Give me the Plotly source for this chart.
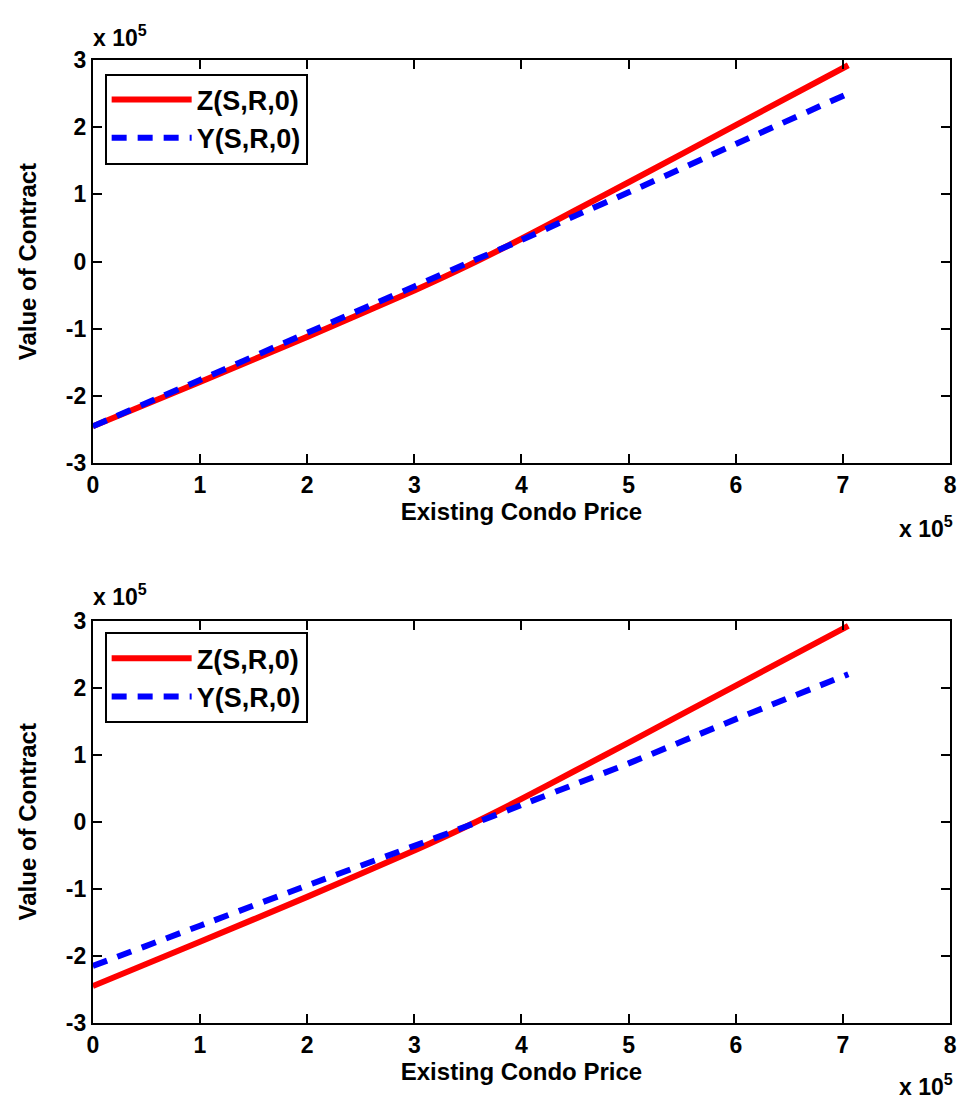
import plotly.graph_objects as go

# Existing condo price (units of 1e5)
x_top = [0, 1, 2, 3, 3.5, 4, 4.5, 5, 6, 7.05]
z_top = [-2.45, -1.79, -1.12, -0.43, -0.06, 0.34, 0.76, 1.18, 2.03, 2.92]
y_top = [-2.45, -1.76, -1.06, -0.37, -0.02, 0.32, 0.68, 1.03, 1.75, 2.5]

x_bot = [0, 1, 2, 3, 3.5, 4, 4.5, 5, 6, 7.05]
z_bot = [-2.45, -1.79, -1.12, -0.43, -0.06, 0.34, 0.76, 1.18, 2.03, 2.92]
y_bot = [-2.15, -1.55, -0.95, -0.36, -0.06, 0.25, 0.56, 0.87, 1.53, 2.2]

x_ticks = [0, 1, 2, 3, 4, 5, 6, 7, 8]
x_tick_text = ["0", "1", "2", "3", "4", "5", "6", "7", "8"]
y_ticks = [-3, -2, -1, 0, 1, 2, 3]
y_tick_text = ["-3", "-2", "-1", "0", "1", "2", "3"]

W, H = 966, 1118
FONT = "Liberation Sans, Arial, sans-serif"
RED = "#ff0000"
BLUE = "#0000ff"

def tfont(size=23):
    return dict(family=FONT, size=size, color="black", weight="bold")

fig = go.Figure()

fig.add_trace(go.Scatter(x=x_top, y=z_top, mode="lines", name="Z(S,R,0)",
                         line=dict(color=RED, width=6, shape="spline", smoothing=0.6),
                         xaxis="x", yaxis="y", legend="legend"))
fig.add_trace(go.Scatter(x=x_top, y=y_top, mode="lines", name="Y(S,R,0)",
                         line=dict(color=BLUE, width=6, dash="15px,11px", shape="spline", smoothing=0.6),
                         xaxis="x", yaxis="y", legend="legend"))
fig.add_trace(go.Scatter(x=x_bot, y=z_bot, mode="lines", name="Z(S,R,0)",
                         line=dict(color=RED, width=6, shape="spline", smoothing=0.6),
                         xaxis="x2", yaxis="y2", legend="legend2"))
fig.add_trace(go.Scatter(x=x_bot, y=y_bot, mode="lines", name="Y(S,R,0)",
                         line=dict(color=BLUE, width=6, dash="15px,11px", shape="spline", smoothing=0.6),
                         xaxis="x2", yaxis="y2", legend="legend2"))

x_dom = [88 / W, 957 / W]
top_dom = [1 - 461 / H, 1 - 48 / H]
bot_dom = [1 - 1034 / H, 1 - 622 / H]

axis_common = dict(
    showgrid=False, zeroline=False, showline=True, linecolor="black", linewidth=2,
    mirror="ticks", ticks="inside", ticklen=9, tickwidth=2, tickcolor="black",
    tickfont=tfont(23),
)

def legend_cfg(top_px):
    return dict(x=100 / W, y=1 - top_px / H, xanchor="left", yanchor="top",
                bgcolor="white", bordercolor="black", borderwidth=2,
                font=tfont(27), tracegroupgap=0, itemwidth=80)

fig.update_layout(
    width=W, height=H,
    margin=dict(l=0, r=0, t=0, b=0),
    paper_bgcolor="white", plot_bgcolor="white",
    font=dict(family=FONT, color="black"),
    showlegend=True,
    legend=legend_cfg(62),
    legend2=legend_cfg(634),
    xaxis=dict(domain=x_dom, anchor="y", range=[0, 8], tickvals=x_ticks, ticktext=x_tick_text,
               title=dict(text="Existing Condo Price", font=tfont(24), standoff=6),
               **axis_common),
    yaxis=dict(domain=top_dom, anchor="x", range=[-3, 3], tickvals=y_ticks, ticktext=y_tick_text,
               title=dict(text="Value of Contract", font=tfont(24), standoff=22),
               **axis_common),
    xaxis2=dict(domain=x_dom, anchor="y2", range=[0, 8], tickvals=x_ticks, ticktext=x_tick_text,
                title=dict(text="Existing Condo Price", font=tfont(24), standoff=6),
                **axis_common),
    yaxis2=dict(domain=bot_dom, anchor="x2", range=[-3, 3], tickvals=y_ticks, ticktext=y_tick_text,
                title=dict(text="Value of Contract", font=tfont(24), standoff=22),
                **axis_common),
)

def exp_label(x, y, xanchor):
    fig.add_annotation(x=x, y=y, xref="paper", yref="paper", showarrow=False,
                       xanchor=xanchor, yanchor="middle",
                       text="x 10<sup>5</sup>", font=tfont(23))

exp_label(86 / W, 1 - 24 / H, "left")
exp_label(962 / W, 1 - 526 / H, "right")
exp_label(86 / W, 1 - 596 / H, "left")
exp_label(962 / W, 1 - 1098 / H, "right")

fig.write_html("out.html")
